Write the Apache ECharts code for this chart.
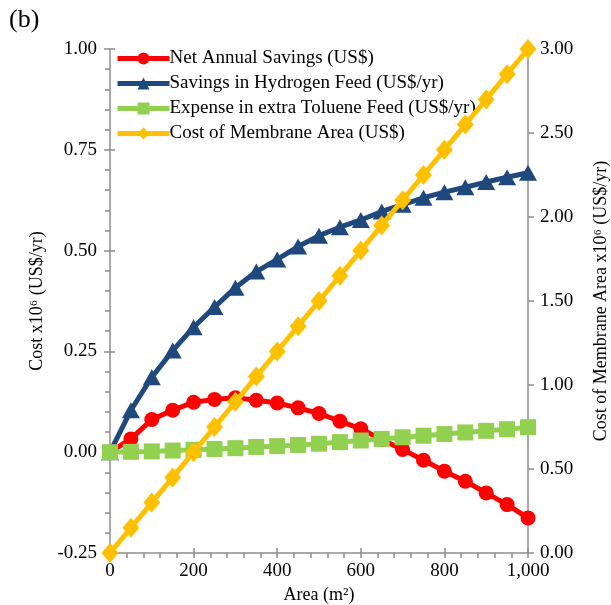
<!DOCTYPE html>
<html>
<head>
<meta charset="utf-8">
<script src="https://cdn.jsdelivr.net/npm/echarts@6/dist/echarts.min.js"></script>
<style>
  html, body { margin: 0; padding: 0; background: #fff; }
  #chart { width: 611px; height: 605px; }
</style>
</head>
<body>
<div id="chart"></div>
<script>
// Membrane area (m2)
const areas = [0, 50, 100, 150, 200, 250, 300, 350, 400, 450, 500,
               550, 600, 650, 700, 750, 800, 850, 900, 950, 1000];

// Left axis series, x10^6 US$/yr
const netAnnualSavings = [0, 0.033, 0.081, 0.104, 0.124, 0.131, 0.135, 0.129, 0.122, 0.110, 0.096,
                          0.077, 0.058, 0.031, 0.007, -0.020, -0.047, -0.072, -0.101, -0.130, -0.163];
const hydrogenSavings = [0, 0.104, 0.186, 0.252, 0.310, 0.360, 0.408, 0.448, 0.478, 0.510, 0.537,
                         0.558, 0.576, 0.597, 0.614, 0.631, 0.645, 0.657, 0.670, 0.682, 0.693];
const tolueneExpense = [0, 0.001, 0.002, 0.004, 0.006, 0.008, 0.010, 0.013, 0.015, 0.018, 0.021,
                        0.025, 0.029, 0.033, 0.037, 0.041, 0.045, 0.049, 0.053, 0.057, 0.062];

// Right axis series, x10^6 US$/yr
const membraneCost = [0, 0.15, 0.30, 0.45, 0.60, 0.75, 0.90, 1.05, 1.20, 1.35, 1.50,
                      1.65, 1.80, 1.95, 2.10, 2.25, 2.40, 2.55, 2.70, 2.85, 3.00];

const seriesNames = [
  'Net Annual Savings (US$)',
  'Savings in Hydrogen Feed (US$/yr)',
  'Expense in extra Toluene Feed (US$/yr)',
  'Cost of Membrane Area (US$)'
];

const FONT = '"Liberation Serif", "Times New Roman", serif';
const AXIS_GREY = '#8c8c8c';

const pairs = ys => areas.map((a, i) => [a, ys[i]]);

const chart = echarts.init(document.getElementById('chart'), null, { renderer: 'canvas' });

const thousands = v => v >= 1000 ? Math.floor(v / 1000) + ',' + String(v % 1000).padStart(3, '0') : String(v);

chart.setOption({
  animation: false,
  backgroundColor: '#ffffff',
  textStyle: { fontFamily: FONT, color: '#000' },
  grid: { left: 110, right: 83, top: 49, bottom: 52, outerBoundsMode: 'none', containLabel: false },
  graphic: [{
    type: 'text', left: 9, top: 7,
    style: { text: '(b)', font: '26px ' + FONT, fill: '#000' }
  }],
  legend: {
    orient: 'vertical',
    left: 110, top: 44,
    itemWidth: 52, itemHeight: 15, itemGap: 6,
    lineStyle: { width: 5 },
    textStyle: { fontFamily: FONT, fontSize: 19, color: '#000', padding: [0, 0, 0, -5] },
    data: seriesNames
  },
  xAxis: [{
    type: 'value', min: 0, max: 1000, interval: 200,
    name: 'Area (m²)', nameLocation: 'middle', nameGap: 30,
    nameTextStyle: { fontFamily: FONT, fontSize: 18, color: '#000' },
    axisLine: { show: true, onZero: false, lineStyle: { color: AXIS_GREY, width: 1.5 } },
    axisTick: { show: true, inside: false, length: 5, lineStyle: { color: AXIS_GREY, width: 1.5 } },
    minorTick: { show: true, splitNumber: 5, length: 5, lineStyle: { color: AXIS_GREY, width: 1.5 } },
    axisLabel: { fontFamily: FONT, fontSize: 19, color: '#000', margin: 9, formatter: thousands },
    splitLine: { show: false }
  }, {
    // inner half of the crossing major ticks
    type: 'value', min: 0, max: 1000, interval: 200, position: 'bottom',
    axisLine: { show: false, onZero: false },
    axisTick: { show: true, inside: true, length: 5, lineStyle: { color: AXIS_GREY, width: 1.5 } },
    axisLabel: { show: false }, splitLine: { show: false }
  }],
  yAxis: [{
    type: 'value', min: -0.25, max: 1.0, interval: 0.25, position: 'left',
    name: 'Cost x10⁶ (US$/yr)', nameLocation: 'middle', nameGap: 62, nameRotate: 90,
    nameTextStyle: { fontFamily: FONT, fontSize: 18, color: '#000' },
    axisLine: { show: true, onZero: false, lineStyle: { color: AXIS_GREY, width: 1.5 } },
    axisTick: { show: true, inside: false, length: 6, lineStyle: { color: AXIS_GREY, width: 1.5 } },
    minorTick: { show: true, splitNumber: 5, length: 5, lineStyle: { color: AXIS_GREY, width: 1.5 } },
    axisLabel: { fontFamily: FONT, fontSize: 19, color: '#000', margin: 13, formatter: v => v.toFixed(2) },
    splitLine: { show: false }
  }, {
    type: 'value', min: 0, max: 3.0, interval: 0.5, position: 'right',
    name: 'Cost of Membrane Area x10⁶ (US$/yr)', nameLocation: 'middle', nameGap: 64, nameRotate: 90,
    nameTextStyle: { fontFamily: FONT, fontSize: 18, color: '#000' },
    axisLine: { show: true, onZero: false, lineStyle: { color: AXIS_GREY, width: 1.5 } },
    axisTick: { show: true, inside: false, length: 6, lineStyle: { color: AXIS_GREY, width: 1.5 } },
    axisLabel: { fontFamily: FONT, fontSize: 19, color: '#000', margin: 12, formatter: v => v.toFixed(2) },
    splitLine: { show: false }
  }, {
    // inner half of the crossing major ticks on the left axis
    type: 'value', min: -0.25, max: 1.0, interval: 0.25, position: 'left',
    axisLine: { show: false, onZero: false },
    axisTick: { show: true, inside: true, length: 5, lineStyle: { color: AXIS_GREY, width: 1.5 } },
    axisLabel: { show: false }, splitLine: { show: false }
  }],
  series: [{
    name: seriesNames[0], type: 'line', yAxisIndex: 0,
    data: pairs(netAnnualSavings),
    symbol: 'circle', symbolSize: 15, showAllSymbol: true,
    lineStyle: { color: '#ff0000', width: 5 },
    itemStyle: { color: '#ff0000' },
    z: 2
  }, {
    name: seriesNames[1], type: 'line', yAxisIndex: 0,
    data: pairs(hydrogenSavings),
    symbol: 'triangle', symbolSize: [18, 16], showAllSymbol: true,
    lineStyle: { color: '#1f497d', width: 5 },
    itemStyle: { color: '#1f497d' },
    z: 3
  }, {
    name: seriesNames[2], type: 'line', yAxisIndex: 0,
    data: pairs(tolueneExpense),
    symbol: 'rect', symbolSize: 16, showAllSymbol: true,
    lineStyle: { color: '#92d050', width: 5 },
    itemStyle: { color: '#92d050' },
    z: 4
  }, {
    name: seriesNames[3], type: 'line', yAxisIndex: 1,
    data: pairs(membraneCost),
    symbol: 'diamond', symbolSize: [17, 20], showAllSymbol: true,
    lineStyle: { color: '#ffc000', width: 5 },
    itemStyle: { color: '#ffc000' },
    z: 5
  }]
});
</script>
</body>
</html>
